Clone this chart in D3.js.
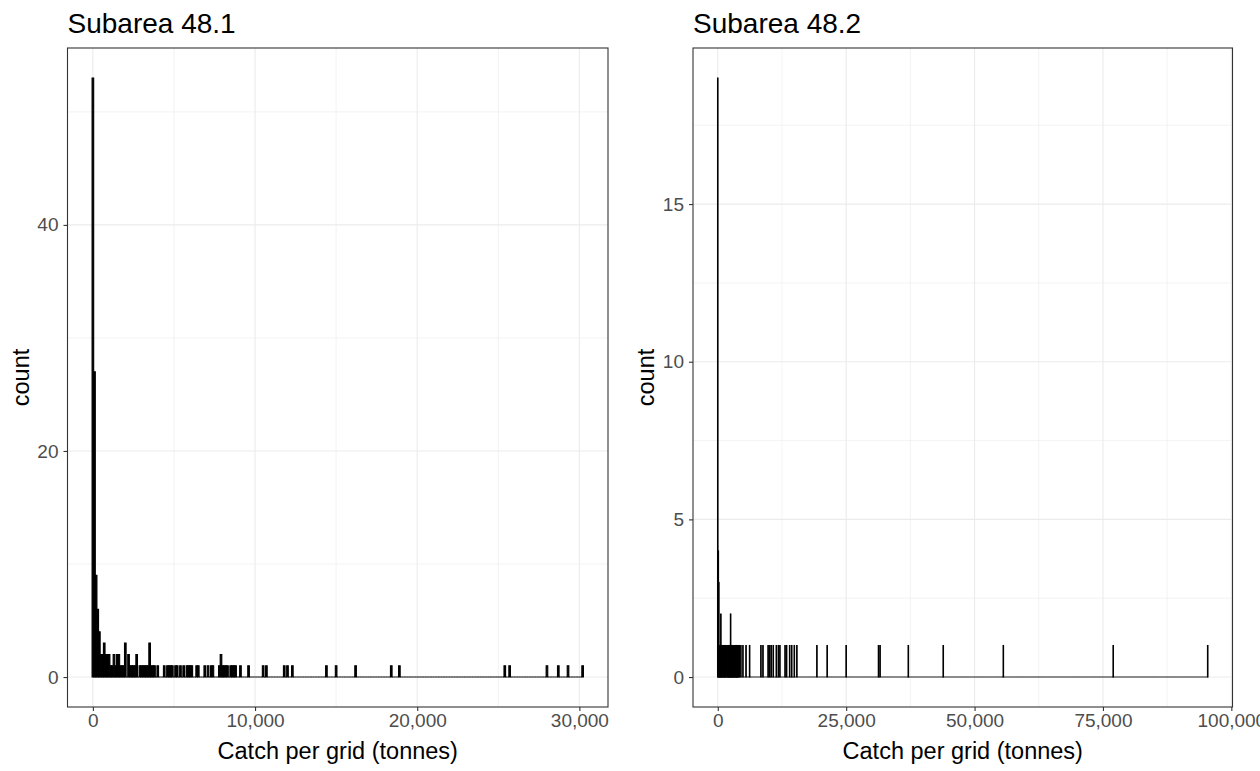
<!DOCTYPE html>
<html lang="en">
<head>
<meta charset="UTF-8">
<title>Catch per grid histograms</title>
<script src="https://d3js.org/d3.v7.min.js"></script>
<style>
  body{margin:0;background:#fff;font-family:"Liberation Sans",Arial,sans-serif;}
</style>
</head>
<body>
<svg width="1260" height="771"></svg>
<script>
// histogram bins are 100 tonnes wide, centred on multiples of 100
const binWidth = 100;

// Subarea 48.1 : non-empty bins (centre, tonnes) and their counts
const bins481 = [0,100,200,300,400,500,600,700,800,900,1000,1100,1200,1300,1400,1500,1600,1700,1800,1900,2000,
  2200,2300,2400,2500,2600,2700,2900,3000,3100,3200,3300,3400,3500,3600,3700,3800,4000,4400,4600,4700,4800,4900,
  5100,5200,5400,5600,5800,5900,6000,6100,6400,6500,6900,7100,7300,7400,7800,7900,8000,8100,8200,8300,8500,8600,
  8700,8800,9100,9600,10500,10700,11800,12000,12300,14400,15000,16200,18400,18900,25400,25700,28000,28700,29300,30200];
const counts481 = [53,27,9,6,4,2,2,3,2,2,2,1,1,2,1,2,2,1,1,1,3,
  2,1,1,1,1,2,1,1,1,1,1,1,3,1,1,1,1,1,1,1,1,1,
  1,1,1,1,1,1,1,1,1,1,1,1,1,1,1,2,1,1,1,1,1,1,
  1,1,1,1,1,1,1,1,1,1,1,1,1,1,1,1,1,1,1,1];

// Subarea 48.2 : non-empty bins (centre, tonnes) and their counts
const bins482 = [0,100,200,300,400,500,600,700,800,900,1100,1200,1300,1400,1500,1600,1800,1900,2000,2100,2200,
  2300,2400,2500,2600,2700,2800,2900,3000,3100,3200,3400,3500,3600,3700,3800,3900,4000,4200,4500,4900,5500,6200,
  8400,8800,9800,10100,10400,10800,11400,11800,12100,13100,13400,14000,14400,14900,15400,19300,21300,25000,
  31300,31600,37100,43900,55600,77000,95400];
const counts482 = [19,4,3,1,1,1,2,1,1,1,1,1,1,1,1,1,1,1,1,1,1,
  1,1,2,1,1,1,1,1,1,1,1,1,1,1,1,1,1,1,1,1,1,1,
  1,1,1,1,1,1,1,1,1,1,1,1,1,1,1,1,1,1,
  1,1,1,1,1,1,1];

const xTicks481 = [0,10000,20000,30000], xMinor481 = [5000,15000,25000];
const yTicks481 = [0,20,40], yMinor481 = [10,30,50];
const xTicks482 = [0,25000,50000,75000,100000], xMinor482 = [12500,37500,62500,87500];
const yTicks482 = [0,5,10,15], yMinor482 = [2.5,7.5,12.5,17.5];

const svg = d3.select('svg');
const plotTop = 48, plotBottom = 707;

function panel(opt){
  const {left, right, title, bins, counts, xTicks, xMinor, yTicks, yMinor} = opt;
  const g = svg.append('g');

  // full set of bins, empty ones included (their outline makes the baseline)
  const lookup = new Map(bins.map((b,i) => [b, counts[i]]));
  const nFirst = Math.round(d3.min(bins)/binWidth), nLast = Math.round(d3.max(bins)/binWidth);
  const table = d3.range(nFirst, nLast+1).map(k => ({c:k*binWidth, n: lookup.get(k*binWidth) || 0}));

  const lo = table[0].c - binWidth/2, hi = table[table.length-1].c + binWidth/2;
  const padX = (hi-lo)*0.05;
  const x = d3.scaleLinear().domain([lo-padX, hi+padX]).range([left, right]);
  const maxN = d3.max(counts);
  const y = d3.scaleLinear().domain([-maxN*0.05, maxN*1.05]).range([plotBottom, plotTop]);

  // grid
  g.selectAll('.vmin').data(xMinor).enter().append('line')
    .attr('x1', d=>x(d)).attr('x2', d=>x(d)).attr('y1', plotTop).attr('y2', plotBottom)
    .attr('stroke','#ebebeb').attr('stroke-width',0.6);
  g.selectAll('.hmin').data(yMinor).enter().append('line')
    .attr('y1', d=>y(d)).attr('y2', d=>y(d)).attr('x1', left).attr('x2', right)
    .attr('stroke','#ebebeb').attr('stroke-width',0.6);
  g.selectAll('.vmaj').data(xTicks).enter().append('line')
    .attr('x1', d=>x(d)).attr('x2', d=>x(d)).attr('y1', plotTop).attr('y2', plotBottom)
    .attr('stroke','#ebebeb').attr('stroke-width',1.1);
  g.selectAll('.hmaj').data(yTicks).enter().append('line')
    .attr('y1', d=>y(d)).attr('y2', d=>y(d)).attr('x1', left).attr('x2', right)
    .attr('stroke','#ebebeb').attr('stroke-width',1.1);

  // bars
  g.selectAll('.bar').data(table).enter().append('path')
    .attr('d', d => {
      const x0 = x(d.c-binWidth/2), x1 = x(d.c+binWidth/2), y0 = y(0), y1 = y(d.n);
      return `M${x0},${y0}V${y1}H${x1}V${y0}Z`;
    })
    .attr('fill','black').attr('stroke','black').attr('stroke-width',1.1);

  // frame
  g.append('rect').attr('x',left).attr('y',plotTop).attr('width',right-left).attr('height',plotBottom-plotTop)
    .attr('fill','none').attr('stroke','#333333').attr('stroke-width',1.1);

  // axes
  const ax = g.append('g').attr('transform',`translate(0,${plotBottom})`)
    .call(d3.axisBottom(x).tickValues(xTicks).tickFormat(d3.format(',')).tickSize(4).tickSizeOuter(0).tickPadding(3));
  const ay = g.append('g').attr('transform',`translate(${left},0)`)
    .call(d3.axisLeft(y).tickValues(yTicks).tickSize(4).tickSizeOuter(0).tickPadding(5));
  [ax, ay].forEach(a => {
    a.select('.domain').remove();
    a.selectAll('line').attr('stroke','#333333').attr('stroke-width',1.1);
    a.selectAll('text').attr('fill','#4d4d4d').style('font-size','19px')
      .style('font-family','"Liberation Sans",Arial,sans-serif');
  });

  // labels
  g.append('text').attr('x',left).attr('y',33).text(title)
    .style('font-size','28px').attr('fill','black');
  g.append('text').attr('x',(left+right)/2).attr('y',759).attr('text-anchor','middle')
    .text('Catch per grid (tonnes)').style('font-size','23.5px').attr('fill','black');
  g.append('text').attr('transform',`translate(${left-39},${(plotTop+plotBottom)/2}) rotate(-90)`)
    .attr('text-anchor','middle').text('count').style('font-size','23.5px').attr('fill','black');
}

panel({left:67.5, right:608, title:'Subarea 48.1', bins:bins481, counts:counts481,
  xTicks:xTicks481, xMinor:xMinor481, yTicks:yTicks481, yMinor:yMinor481});
panel({left:693, right:1232.5, title:'Subarea 48.2', bins:bins482, counts:counts482,
  xTicks:xTicks482, xMinor:xMinor482, yTicks:yTicks482, yMinor:yMinor482});
</script>
</body>
</html>
